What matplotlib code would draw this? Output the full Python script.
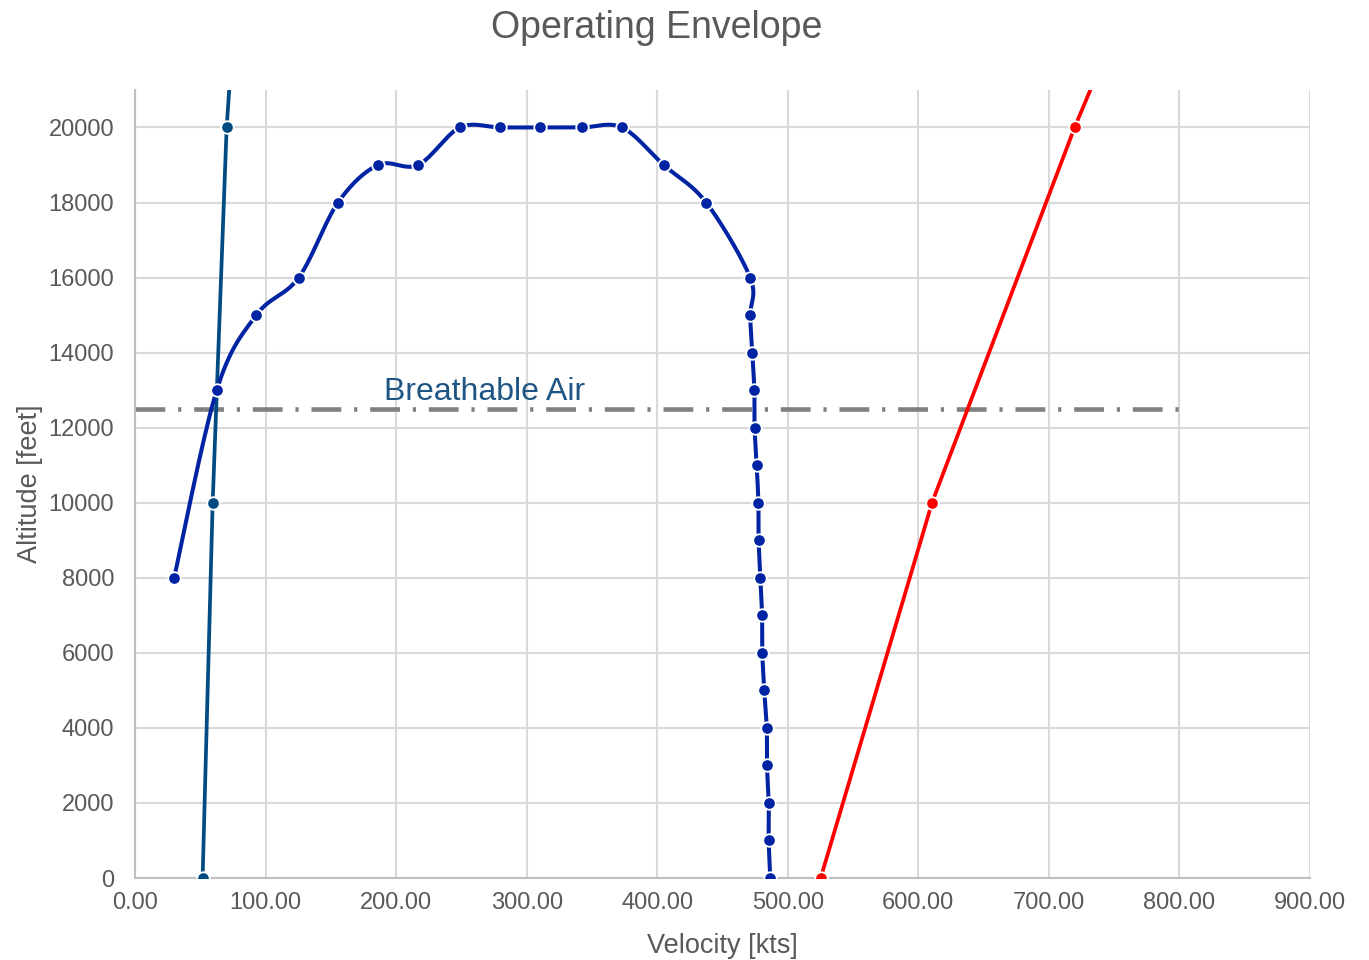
import numpy as np
import matplotlib
matplotlib.use("Agg")
import matplotlib.pyplot as plt

plt.rcParams['font.family'] = ['Liberation Sans', 'DejaVu Sans']

# envelope boundary (velocity in kts, altitude in feet)
env_vel = [30, 62.6, 92.9, 125.4, 155.5, 186.1, 216.8, 248.9, 279.6, 310.2, 342.4, 373.0,
           405.0, 437.5, 471.2, 471.2, 472.8, 474.4, 474.6, 476.2, 477.5, 477.7, 479.0,
           480.3, 480.5, 482.0, 483.9, 484.1, 485.4, 485.4, 486.6]
env_alt = [8000, 13000, 15000, 16000, 18000, 19000, 19000, 20000, 20000, 20000, 20000, 20000,
           19000, 18000, 16000, 15000, 14000, 13000, 12000, 11000, 10000, 9000, 8000,
           7000, 6000, 5000, 4000, 3000, 2000, 1000, 0]

# stall speed line
stall_vel = [51.8, 59.5, 70.2, 80.0]
stall_alt = [0, 10000, 20000, 25000]

# max speed line
vmax_vel = [525.2, 610.5, 719.7, 780.0]
vmax_alt = [0, 10000, 20000, 25000]

breath_alt = 12500
breath_end = 800

c_env = '#0023A3'
c_stall = '#004C82'
c_vmax = '#FF0000'
c_text = '#595959'


def smooth(xs, ys, sx, sy, n=30):
    # cubic bezier through the points, tangents from neighbours (scaled to screen units)
    p = np.column_stack([np.asarray(xs) * sx, np.asarray(ys) * sy])
    out = []
    for i in range(len(p) - 1):
        p0 = p[max(i - 1, 0)]
        p1 = p[i]
        p2 = p[i + 1]
        p3 = p[min(i + 2, len(p) - 1)]
        c1 = p1 + (p2 - p0) / 6.0
        c2 = p2 - (p3 - p1) / 6.0
        t = np.linspace(0, 1, n)[:, None]
        seg = ((1 - t) ** 3) * p1 + 3 * ((1 - t) ** 2) * t * c1 + 3 * (1 - t) * t ** 2 * c2 + t ** 3 * p2
        out.append(seg if i == 0 else seg[1:])
    out = np.vstack(out)
    return out[:, 0] / sx, out[:, 1] / sy


fig = plt.figure(figsize=(13.69, 9.6), dpi=100)
ax = fig.add_axes([0.0986, 0.0854, 0.8583, 0.8209])

sx = 1175 / 900.0
sy = 752 / 20000.0
xs, ys = smooth(env_vel, env_alt, sx, sy)
ax.plot(xs, ys, color=c_env, lw=2.9, zorder=4)
ax.plot(env_vel, env_alt, 'o', color=c_env, ms=9, mec='white', mew=1.3, zorder=5)

ax.plot(stall_vel, stall_alt, color=c_stall, lw=2.7, zorder=3)
ax.plot(stall_vel[:3], stall_alt[:3], 'o', color=c_stall, ms=9, mec='white', mew=1.3, zorder=5)

ax.plot(vmax_vel, vmax_alt, color=c_vmax, lw=2.7, zorder=3)
ax.plot(vmax_vel[:3], vmax_alt[:3], 'o', color=c_vmax, ms=9, mec='white', mew=1.3, zorder=5)

ax.plot([0, breath_end], [breath_alt, breath_alt], color='#808080', lw=3.3,
        dashes=[6.5, 2.8, 0.7, 2.8], solid_capstyle='butt', zorder=2)
ax.text(191, 12750, 'Breathable Air', color='#1F5585', fontsize=23, ha='left', va='baseline')

ax.set_xlim(0, 900)
ax.set_ylim(0, 21000)
ax.set_xticks(np.arange(0, 901, 100))
ax.set_xticklabels(['%.2f' % v for v in np.arange(0, 901, 100)])
ax.set_yticks(np.arange(0, 20001, 2000))
ax.grid(True, color='#D9D9D9', lw=1.5)
ax.set_axisbelow(True)
for s in ['top', 'right']:
    ax.spines[s].set_visible(False)
for s in ['left', 'bottom']:
    ax.spines[s].set_color('#BFBFBF')
    ax.spines[s].set_linewidth(1.5)
ax.tick_params(length=0, labelsize=17, labelcolor=c_text)
ax.tick_params(axis='y', pad=15)
ax.tick_params(axis='x', pad=10)

ax.set_xlabel('Velocity [kts]', fontsize=19.5, color=c_text, labelpad=14)
ax.set_ylabel('Altitude [feet]', fontsize=19.5, color=c_text, labelpad=4)
fig.suptitle('Operating Envelope', fontsize=27, color=c_text, x=0.48, y=0.99)

fig.savefig('out.png', dpi=100)
